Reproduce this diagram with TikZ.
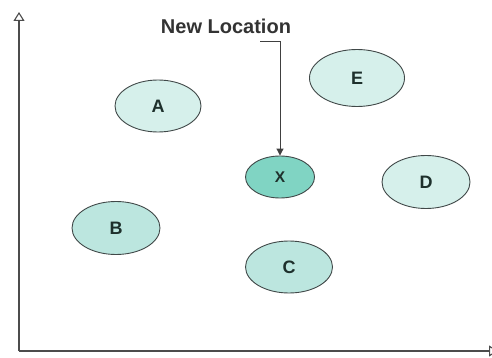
\documentclass[tikz,border=0pt]{standalone}
\usepackage{fontspec}
\setmainfont{Liberation Sans}
\usetikzlibrary{arrows.meta,shapes.geometric}
\definecolor{edge}{HTML}{404848}
\definecolor{ink}{HTML}{1E302C}
\definecolor{palefill}{HTML}{D6F0EB}
\definecolor{midfill}{HTML}{BCE6DF}
\definecolor{deepfill}{HTML}{80D4C3}
\tikzset{
  site/.style={ellipse, draw=edge, line width=0.9pt, inner sep=0pt,
    font=\fontsize{18}{18}\selectfont\bfseries, text=ink},
  axis/.style={draw=black!70, line width=1.3pt,
    -{Triangle[open, length=9pt, width=11pt, line width=1.1pt]}},
  pointer/.style={draw=black!75, line width=1pt,
    -{Triangle[length=7pt, width=7pt]}}
}
\begin{document}
\begin{tikzpicture}[x=1pt, y=-1pt]
  \clip (0,0) rectangle (492,358);
  \fill[white] (0,0) rectangle (492,358);

  % axes
  \coordinate (origin) at (19,351);
  \coordinate (ytop) at (19,12);
  \coordinate (xend) at (498,351);
  \draw[axis] (origin) -- (ytop);
  \draw[axis] (origin) -- (xend);

  % locations
  \node[site, fill=palefill, minimum width=86pt, minimum height=52pt] (A) at (158,106) {A};
  \node[site, fill=palefill, minimum width=95pt, minimum height=57pt] (E) at (357,78) {E};
  \node[site, fill=deepfill, minimum width=69pt, minimum height=42pt,
        font=\fontsize{15.5}{15.5}\selectfont\bfseries] (X) at (280,177) {X};
  \node[site, fill=palefill, minimum width=88pt, minimum height=53pt] (D) at (426,182) {D};
  \node[site, fill=midfill, minimum width=88pt, minimum height=53pt] (B) at (116,228) {B};
  \node[site, fill=midfill, minimum width=87pt, minimum height=52pt] (C) at (289,267) {C};

  % label and pointer
  \node[font=\fontsize{20}{20}\selectfont\bfseries, text=black!80, inner sep=0pt]
    (label) at (226,26) {New Location};
  \coordinate (hook) at (260,42);
  \draw[pointer] (hook) -| (X.north);
\end{tikzpicture}
\end{document}
